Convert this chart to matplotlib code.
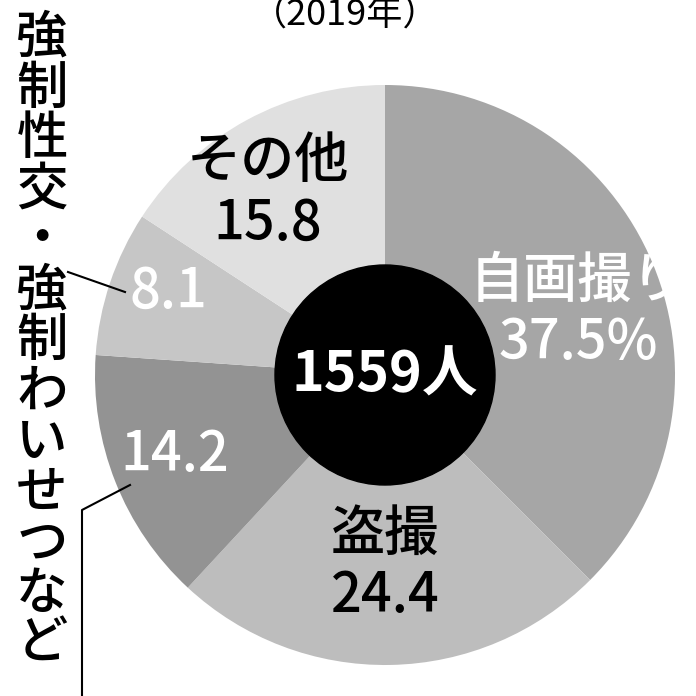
import matplotlib
matplotlib.use("Agg")
import matplotlib.pyplot as plt

plt.rcParams['font.family'] = ['Noto Sans CJK JP', 'DejaVu Sans']

labels = ["自画撮り\n37.5%", "盗撮\n24.4", "14.2", "8.1", "その他\n15.8"]
values = [37.5, 24.4, 14.2, 8.1, 15.8]
colors = ["#a6a6a6", "#bdbdbd", "#939393", "#c6c6c6", "#e0e0e0"]
text_colors = ["white", "black", "white", "white", "black"]
label_pos = [(578, 312), (385, 565), (175, 455), (168, 292), (268, 192)]
total_label = "1559人"
title = "（2019年）"
side_label = "強制性交・強制わいせつなど"

fig = plt.figure(figsize=(6.96, 6.96), dpi=100)
ax = fig.add_axes([0, 0, 1, 1])
cx, cy, r = 385, 375, 290
ax.pie(values, colors=colors, startangle=-90, counterclock=True,
       center=(cx, cy), radius=r, frame=True,
       wedgeprops=dict(linewidth=0))
ax.set_xlim(0, 696)
ax.set_ylim(696, 0)
ax.axis('off')
ax.add_patch(plt.Circle((cx, cy), 110, color="black", zorder=3))
ax.text(cx, cy, total_label, color="white", fontsize=40, fontweight="bold",
        ha="center", va="center", zorder=4)
for lab, (x, y), c in zip(labels, label_pos, text_colors):
    ax.text(x, y, lab, color=c, fontsize=39, fontweight="medium",
            ha="center", va="center", linespacing=1.15, zorder=4)
ax.text(345, 16, title, fontsize=26, ha="center", va="center")
for i, ch in enumerate(side_label):
    ax.text(42, 38 + i * 50.5, ch, fontsize=37, fontweight="medium",
            ha="center", va="center")
ax.plot([68, 125], [272, 292], color="black", lw=1.5)
ax.plot([130, 82, 82], [485, 510, 696], color="black", lw=1.5)
fig.savefig("out.png", dpi=100)
